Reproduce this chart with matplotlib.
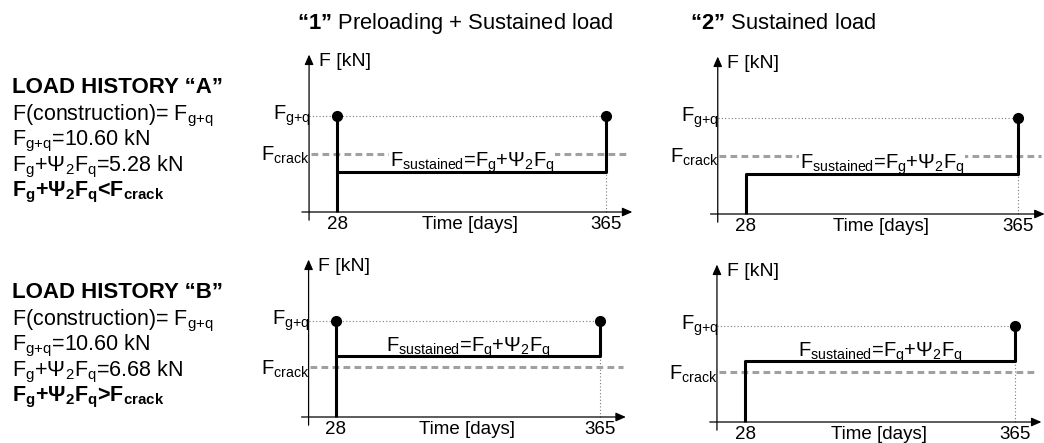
import matplotlib.pyplot as plt

plt.rcParams['font.family'] = ['Liberation Sans', 'DejaVu Sans']
plt.rcParams['mathtext.fontset'] = 'custom'
plt.rcParams['mathtext.rm'] = 'Liberation Sans'
plt.rcParams['mathtext.bf'] = 'Liberation Sans:bold'
plt.rcParams['mathtext.it'] = 'Liberation Sans:italic'
plt.rcParams['mathtext.default'] = 'regular'

# load levels [kN] as drawn in the schematic
F_gq = 10.6
sustained = {'A': 4.4, 'B': 6.68}
crack = {'A': 6.4, 'B': 5.45}
days = [28, 365]
tick_labels = ['28', '365']
histories = ['A', 'B']
psi_values = ['5.28', '6.68']
relations = ['<', '>']
case_titles = [r'$\mathbf{“1”}$ Preloading + Sustained load', r'$\mathbf{“2”}$ Sustained load']

GQ = 'F$_{g{+}q}$'   # braces keep mathtext from padding the plus sign

W, H = 1044, 443
fig = plt.figure(figsize=(W / 100, H / 100), dpi=100)

GRAY_DOT = '#7a7a7a'
GRAY_DASH = '#a0a0a0'
XLIM = (-25, 410)
YLIM = (-3, 19)
Y_AX = -7   # day where the force axis stands
SY = 9.1    # px per kN


def add_panel(x28, x365, y0):
    # place an axes so that day 28 / 365 and F=0 land on the given pixels
    sx = (x365 - x28) / (days[1] - days[0])
    left = x28 - (days[0] - XLIM[0]) * sx
    bottom = y0 - YLIM[0] * SY
    w = (XLIM[1] - XLIM[0]) * sx
    h = (YLIM[1] - YLIM[0]) * SY
    ax = fig.add_axes([left / W, 1 - bottom / H, w / W, h / H])
    ax.set_xlim(*XLIM)
    ax.set_ylim(*YLIM)
    ax.axis('off')
    return ax


def draw_panel(ax, hist, preload):
    t0, t1 = days
    fs = sustained[hist]
    fc = crack[hist]
    arrow = dict(arrowstyle='-|>,head_length=0.5,head_width=0.22', lw=0.9,
                 color='black', mutation_scale=12, shrinkA=0, shrinkB=0)
    ax.annotate('', xy=(398, 0), xytext=(-16, 0), arrowprops=arrow, annotation_clip=False)
    ax.annotate('', xy=(Y_AX, 17.3), xytext=(Y_AX, -0.9), arrowprops=arrow, annotation_clip=False)

    # reference lines
    ax.plot([Y_AX, t1], [F_gq, F_gq], color=GRAY_DOT, lw=0.8, ls=(0, (1, 2)), zorder=1)
    ax.plot([t1, t1], [0, fs], color=GRAY_DOT, lw=0.8, ls=(0, (1, 2)), zorder=1)
    ax.plot([Y_AX + 2, 394], [fc, fc], color=GRAY_DASH, lw=2.2, ls=(0, (2.2, 1.4)), zorder=1)

    # load path
    if preload:
        ax.plot([t0, t0], [0, F_gq], color='black', lw=2.2, solid_capstyle='butt', zorder=3)
        ax.plot([t0, t1, t1], [fs, fs, F_gq], color='black', lw=2.2, zorder=3)
        ax.plot([t0, t1], [F_gq, F_gq], 'o', color='black', ms=7, zorder=4)
    else:
        ax.plot([t0, t0, t1, t1], [0, fs, fs, F_gq], color='black', lw=2.2,
                solid_capstyle='butt', zorder=3)
        ax.plot([t1], [F_gq], 'o', color='black', ms=7, zorder=4)

    # labels
    ax.annotate(GQ, xy=(Y_AX, F_gq), xytext=(1, -3), textcoords='offset points',
                ha='right', va='baseline', fontsize=14.5, zorder=5)
    ax.annotate('F$_{crack}$', xy=(Y_AX, fc), xytext=(0.5, -5), textcoords='offset points',
                ha='right', va='baseline', fontsize=14.5, zorder=5)
    ax.annotate('F [kN]', xy=(Y_AX, 17.3), xytext=(7, -5), textcoords='offset points',
                ha='left', va='center', fontsize=14)
    for t, lab in zip(days, tick_labels):
        ax.annotate(lab, xy=(t, 0), xytext=(0, -3), textcoords='offset points',
                    ha='center', va='top', fontsize=13.5)
    ax.annotate('Time [days]', xy=(195, 0), xytext=(0, -3), textcoords='offset points',
                ha='center', va='top', fontsize=13.5)
    ax.annotate('F$_{sustained}$=F$_{g}$+Ψ$_{2}$F$_{q}$', xy=(197, fs), xytext=(0, 3.5),
                textcoords='offset points', ha='center', va='baseline', fontsize=14.5,
                zorder=2.5, bbox=dict(facecolor='white', edgecolor='none', pad=0.5))


panels = {
    ('A', True): (337, 606, 212),
    ('A', False): (746, 1018, 214),
    ('B', True): (336, 600, 417),
    ('B', False): (745, 1015, 422),
}
for (hist, preload), (x28, x365, y0) in panels.items():
    draw_panel(add_panel(x28, x365, y0), hist, preload)

# column titles
for x, title in zip([297, 690], case_titles):
    fig.text(x / W, 1 - 29 / H, title, fontsize=15.8, ha='left', va='baseline')

# load history descriptions
for hist, psi, rel, top in zip(histories, psi_values, relations, [93, 298]):
    lines = [
        ('LOAD HISTORY “%s”' % hist, 'bold', 16),
        ('F(construction)= ' + GQ, 'normal', 15.5),
        (GQ + '=10.60 kN', 'normal', 15.5),
        ('F$_{g}$+Ψ$_{2}$F$_{q}$=%s kN' % psi, 'normal', 15.5),
        ('F$_{g}$+Ψ$_{2}$F$_{q}$%sF$_{crack}$' % rel, 'bold', 15.5),
    ]
    offsets = [0, 27, 52.5, 78, 103.5]
    for (txt, weight, size), dy in zip(lines, offsets):
        fig.text(12 / W, 1 - (top + dy) / H, txt, fontsize=size, fontweight=weight,
                 ha='left', va='baseline')

fig.savefig('out.png', dpi=100)
